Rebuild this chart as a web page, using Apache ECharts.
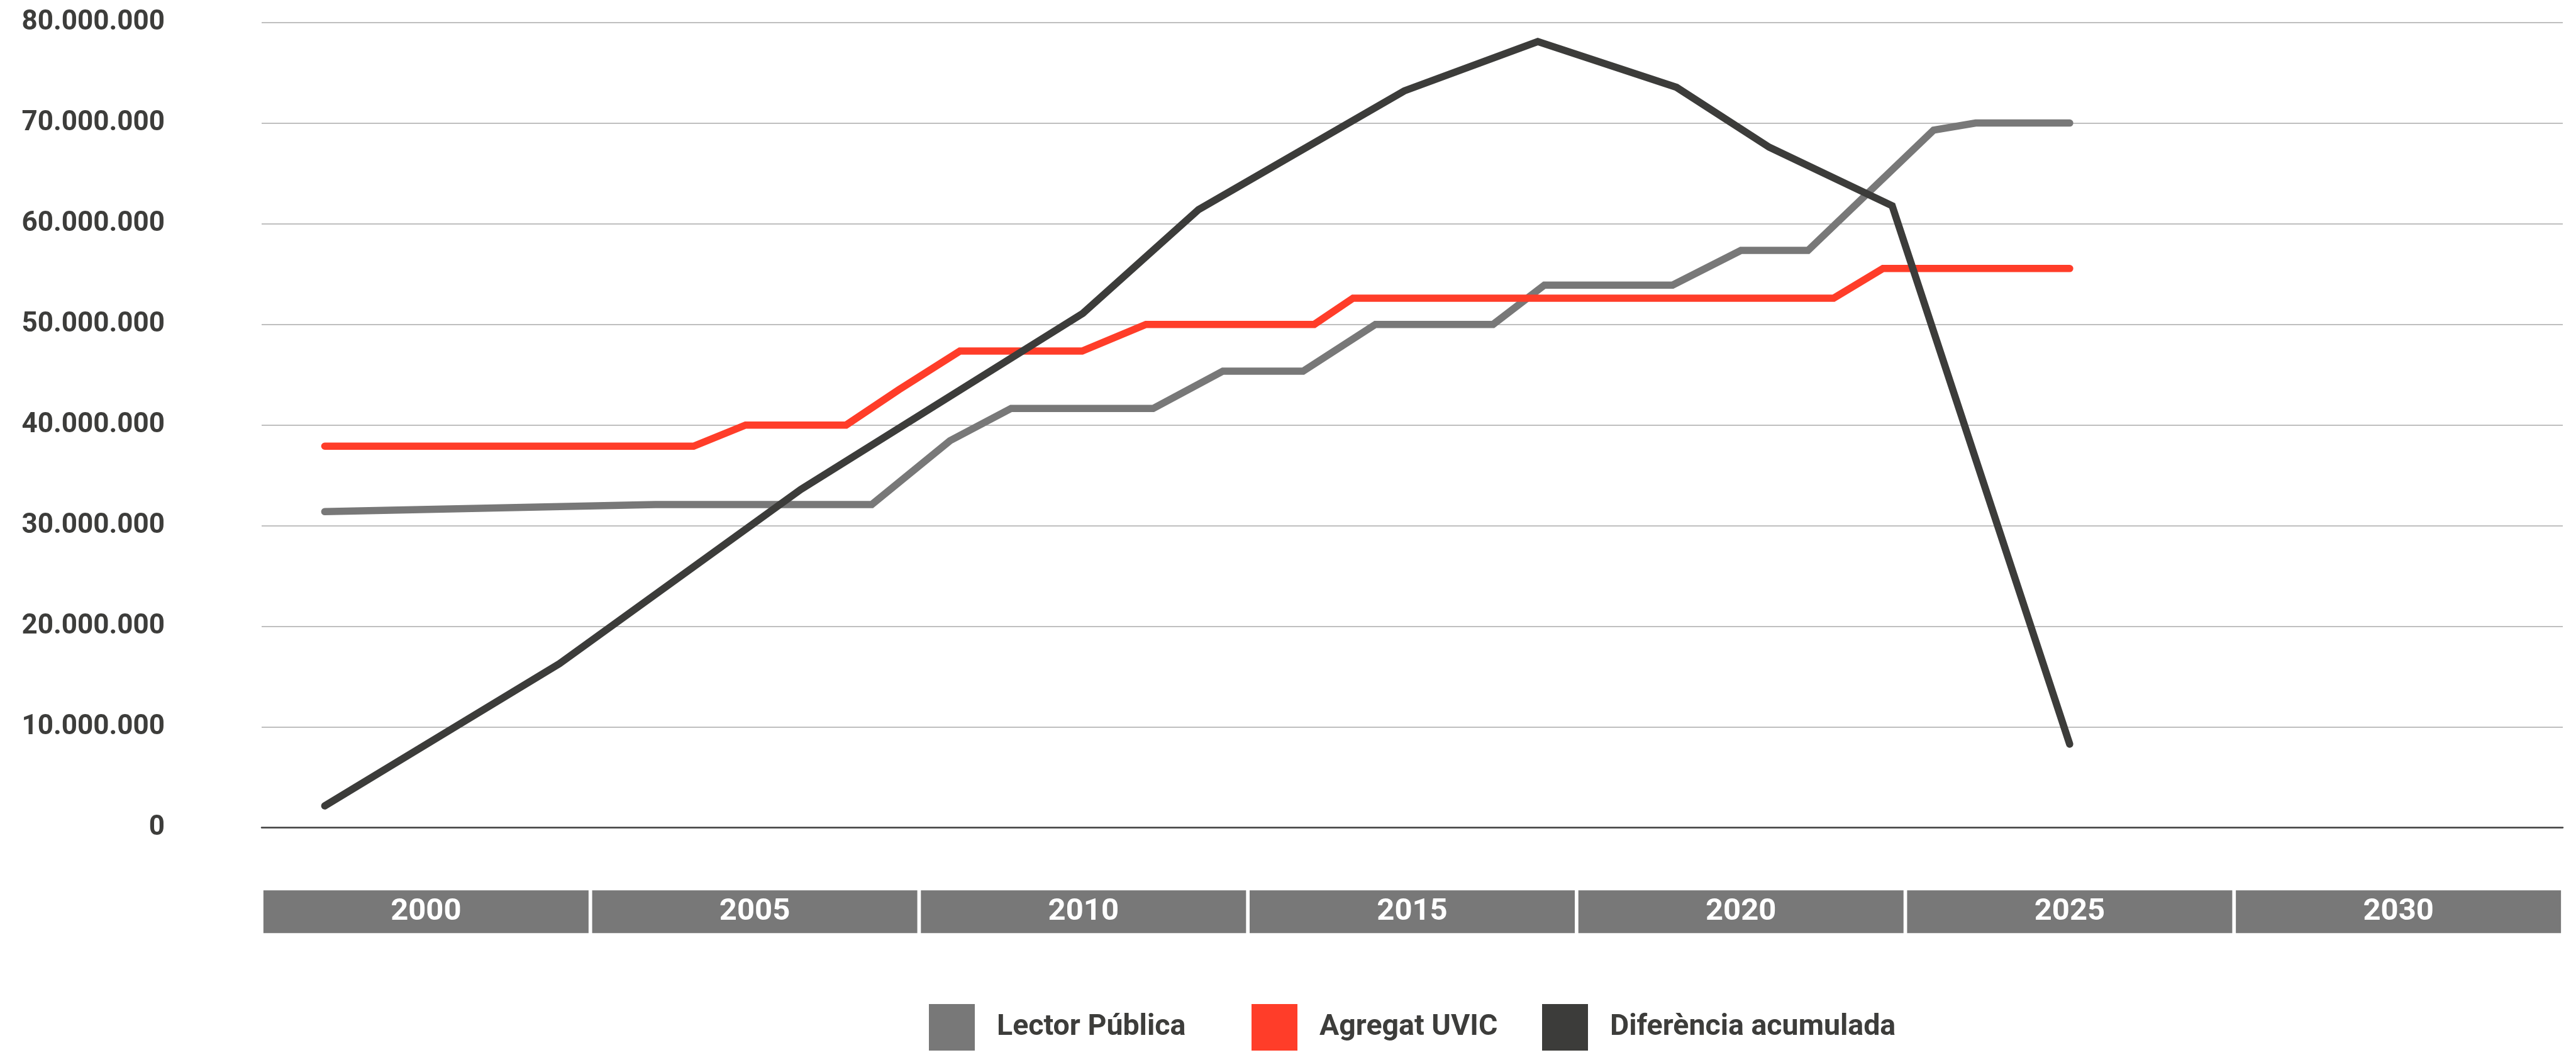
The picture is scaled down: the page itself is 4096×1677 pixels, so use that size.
<!DOCTYPE html>
<html>
<head>
<meta charset="utf-8">
<script src="https://cdn.jsdelivr.net/npm/echarts@6/dist/echarts.min.js"></script>
<style>
  html, body { margin: 0; padding: 0; background: #fff; }
  #chart { width: 4096px; height: 1677px; }
</style>
</head>
<body>
<div id="chart"></div>
<script>
  // period labels shown in the grey band under the plot
  const periods = ['2000', '2005', '2010', '2015', '2020', '2025', '2030'];

  // Lector Pública
  const lectorYears = [1998.46, 2003.49, 2006.78, 2007.97, 2008.9, 2011.06, 2012.12, 2013.34, 2014.44, 2016.23, 2017.01, 2018.96, 2020.0, 2021.02, 2022.93, 2023.57, 2025.0];
  const lectorValues = [31400000, 32100000, 32100000, 38450000, 41650000, 41650000, 45350000, 45350000, 50000000, 50000000, 53900000, 53900000, 57350000, 57350000, 69300000, 70000000, 70000000];

  // Agregat UVIC
  const uvicYears = [1998.46, 2004.07, 2004.86, 2006.39, 2007.19, 2008.12, 2009.98, 2010.95, 2013.51, 2014.1, 2021.41, 2022.16, 2025.0];
  const uvicValues = [37900000, 37900000, 40000000, 40000000, 43500000, 47350000, 47350000, 50000000, 50000000, 52600000, 52600000, 55550000, 55550000];

  // Diferència acumulada
  const difYears = [1998.46, 2002.03, 2005.7, 2009.99, 2011.75, 2014.88, 2016.91, 2019.02, 2020.43, 2022.3, 2025.0];
  const difValues = [2170000, 16300000, 33600000, 51100000, 61400000, 73200000, 78100000, 73550000, 67600000, 61780000, 8300000];

  const zip = (xs, ys) => xs.map((x, i) => [x, ys[i]]);
  const fmt = (v) => String(v).replace(/\B(?=(\d{3})+(?!\d))/g, '.');

  const textColor = '#3d3d3b';
  const font = 'Roboto';

  const legendBase = {
    top: 1596,
    padding: 0,
    icon: 'rect',
    itemWidth: 73,
    itemHeight: 74,
    selectedMode: false,
    textStyle: {
      fontFamily: font,
      fontSize: 46.5,
      fontWeight: 'bold',
      color: textColor,
      padding: [6, 0, 0, 30],
    },
  };

  const lineStyle = (color) => ({ color, width: 11.5, cap: 'round', join: 'miter' });

  const chart = echarts.init(document.getElementById('chart'));
  chart.setOption({
    animation: false,
    backgroundColor: '#fff',
    grid: { left: 416, right: 21, top: 35.6, bottom: 361.3 },
    legend: [
      { ...legendBase, left: 1477, data: ['Lector Pública'] },
      { ...legendBase, left: 1990, data: ['Agregat UVIC'] },
      { ...legendBase, left: 2452, data: ['Diferència acumulada'] },
    ],
    xAxis: [
      {
        type: 'value',
        min: 1997.5,
        max: 2032.5,
        axisLine: { show: true, onZero: true, lineStyle: { color: '#3f3f3f', width: 2.5 } },
        axisTick: { show: false },
        axisLabel: { show: false },
        splitLine: { show: false },
      },
      {
        type: 'category',
        data: periods,
        position: 'bottom',
        axisLine: { show: false },
        axisTick: { show: false },
        splitLine: { show: false },
        axisLabel: {
          interval: 0,
          margin: 99.6,
          width: 517,
          height: 68,
          lineHeight: 68,
          align: 'center',
          backgroundColor: '#787878',
          color: '#fff',
          fontFamily: font,
          fontSize: 49,
          fontWeight: 'bold',
        },
      },
    ],
    yAxis: {
      type: 'value',
      min: 0,
      max: 80000000,
      interval: 10000000,
      axisLine: { show: false },
      axisTick: { show: false },
      splitLine: { lineStyle: { color: '#bfbfbf', width: 2 } },
      axisLabel: {
        margin: 154,
        color: textColor,
        fontFamily: font,
        fontSize: 44,
        fontWeight: 'bold',
        formatter: fmt,
      },
    },
    series: [
      {
        name: 'Lector Pública',
        type: 'line',
        data: zip(lectorYears, lectorValues),
        symbol: 'none',
        itemStyle: { color: '#787878' },
        lineStyle: lineStyle('#787878'),
      },
      {
        name: 'Agregat UVIC',
        type: 'line',
        data: zip(uvicYears, uvicValues),
        symbol: 'none',
        itemStyle: { color: '#ff3d29' },
        lineStyle: lineStyle('#ff3d29'),
      },
      {
        name: 'Diferència acumulada',
        type: 'line',
        data: zip(difYears, difValues),
        symbol: 'none',
        itemStyle: { color: '#3c3c3a' },
        lineStyle: lineStyle('#3c3c3a'),
      },
    ],
  });
</script>
</body>
</html>
